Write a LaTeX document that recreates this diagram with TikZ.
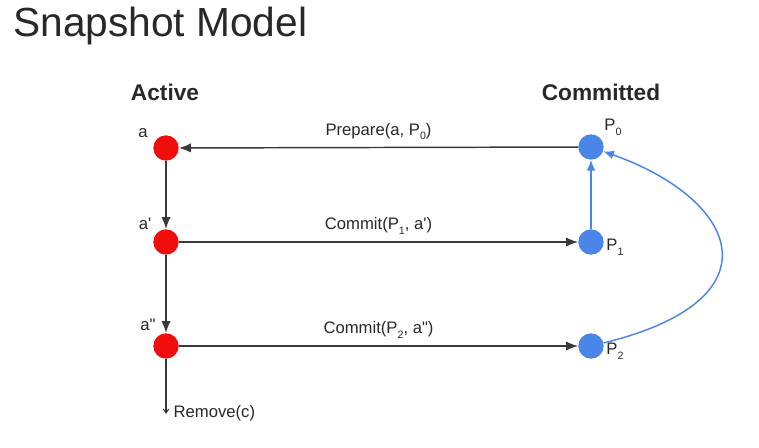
\documentclass[tikz,border=0pt]{standalone}
\usepackage{fontspec}
\setmainfont{Liberation Sans}
\usepackage{xcolor}
\usepackage{tikz}
\usetikzlibrary{arrows.meta}

\definecolor{actRed}{HTML}{F20D0D}
\definecolor{comBlue}{HTML}{4A86E8}
\definecolor{lineGray}{HTML}{37393B}
\definecolor{txtGray}{HTML}{262829}

\newcommand{\lowsub}[1]{\raisebox{-0.55ex}{\fontsize{8}{9}\selectfont #1}}

\begin{document}
\begin{tikzpicture}[
    x=0.75pt, y=-0.75pt,
    actN/.style={circle, fill=actRed, minimum size=19pt, inner sep=0pt},
    comN/.style={circle, fill=comBlue, minimum size=19pt, inner sep=0pt},
    lbl/.style={font=\fontsize{12.5}{14}\selectfont, text=txtGray, inner sep=1pt},
    head/.style={font=\fontsize{17}{20}\selectfont\bfseries, text=txtGray},
    blk/.style={draw=lineGray, line width=1.1pt, -{Latex[length=9pt,width=7pt]}},
    blu/.style={draw=comBlue, line width=1.1pt, -{Latex[length=8pt,width=6.5pt]}},
]
\useasboundingbox (0,0) rectangle (759,448);

% ---- Titre ----
\node[anchor=base west, font=\fontsize{30.5}{36}\selectfont, text=txtGray, inner sep=0pt] (title) at (13,37) {Snapshot Model};

% ---- En-têtes des colonnes ----
\node[head] (hAct) at (165,92) {Active};
\node[head] (hCom) at (601,92) {Committed};

% ---- Colonne Active ----
\node[actN] (a0) at (166,148) {};
\node[actN] (a1) at (166,242) {};
\node[actN] (a2) at (166,346) {};
\node[lbl] (la0) at (143,133) {a};
\node[lbl] (la1) at (145,224) {a\textquotesingle};
\node[lbl] (la2) at (148,325) {a\textquotedbl};

% ---- Colonne Committed ----
\node[comN] (p0) at (591,147) {};
\node[comN] (p1) at (591,242) {};
\node[comN] (p2) at (591,346) {};
\node[lbl] (lp0) at (613,127) {P\lowsub{0}};
\node[lbl] (lp1) at (615,247) {P\lowsub{1}};
\node[lbl] (lp2) at (615,351) {P\lowsub{2}};

% ---- Flèches noires ----
\draw[blk] (p0) -- (a0) node[lbl, midway, above=4pt] (e0) {Prepare(a, P\lowsub{0})};
\draw[blk] (a1) -- (p1) node[lbl, midway, above=4pt] (e1) {Commit(P\lowsub{1}, a\textquotesingle)};
\draw[blk] (a2) -- (p2) node[lbl, midway, above=4pt] (e2) {Commit(P\lowsub{2}, a\textquotedbl)};
\draw[blk] (a0) -- (a1);
\draw[blk] (a1) -- (a2);

% ---- Remove ----
\coordinate (rm) at (166,414);
\draw[draw=lineGray, line width=0.8pt, -{Straight Barb[length=3pt,width=4pt]}] (a2) -- (rm);
\node[lbl, anchor=west] (lrm) at (172,413) {Remove(c)};

% ---- Flèches bleues ----
\draw[blu] (p1) -- (p0);
\draw[blu] (p2) .. controls (780,300) and (740,200) .. (p0);

\end{tikzpicture}
\end{document}
